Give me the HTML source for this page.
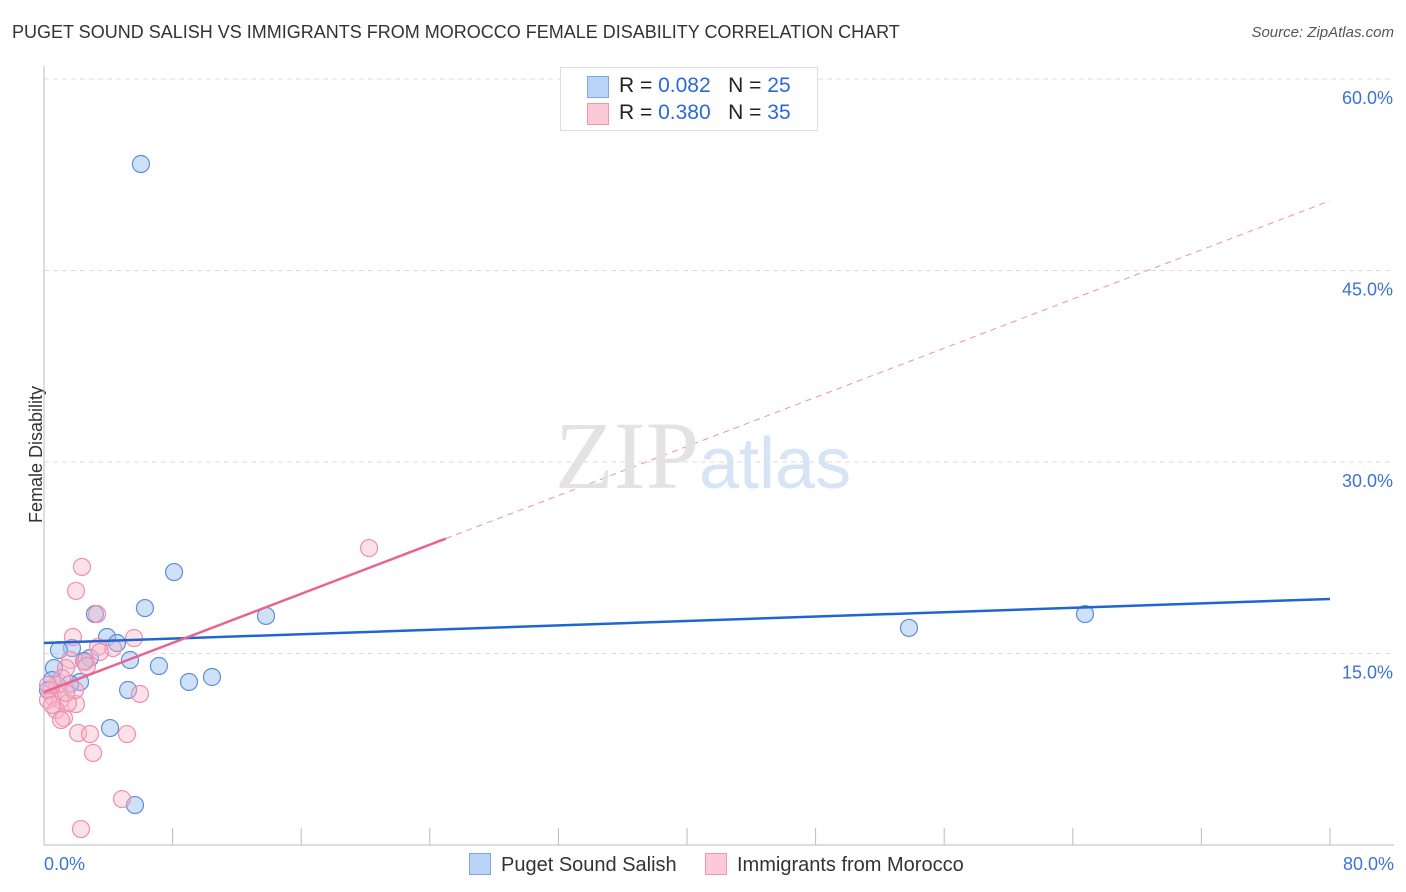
<!DOCTYPE html>
<html><head><meta charset="utf-8"><style>
body{margin:0;background:#fff;font-family:"Liberation Sans",sans-serif;}
#wrap{position:relative;width:1406px;height:892px;overflow:hidden;}
.t{position:absolute;white-space:nowrap;}
</style></head><body>
<div id="wrap">
<div class="t" style="left:12px;top:22px;font-size:18px;color:#333;">PUGET SOUND SALISH VS IMMIGRANTS FROM MOROCCO FEMALE DISABILITY CORRELATION CHART</div>
<div class="t" style="right:12px;top:24px;font-size:15px;color:#555;font-style:italic;">Source: ZipAtlas.com</div>
<div class="t" style="left:-32px;top:444px;font-size:18px;color:#333;transform:rotate(-90deg);">Female Disability</div>
<svg id="plot" width="1406" height="892" style="position:absolute;left:0;top:0"></svg>
<div class="t" style="left:560px;top:67px;width:256px;height:62px;border:1px solid #ddd;background:#fff;">
 <div style="position:absolute;left:26px;top:8px;width:20px;height:20px;background:#b8d3f5;border:1px solid #7aa7e6;"></div>
 <div class="t" style="left:58px;top:6px;font-size:21px;color:#222;">R = <span style="color:#2a6ad6">0.082</span>&nbsp;&nbsp;&nbsp;N = <span style="color:#2a6ad6">25</span></div>
 <div style="position:absolute;left:26px;top:35px;width:20px;height:20px;background:#fbc9d8;border:1px solid #f094b0;"></div>
 <div class="t" style="left:58px;top:33px;font-size:21px;color:#222;">R = <span style="color:#2a6ad6">0.380</span>&nbsp;&nbsp;&nbsp;N = <span style="color:#2a6ad6">35</span></div>
</div>
<div class="t" style="left:555px;top:400px;font-size:96px;font-family:'Liberation Serif',serif;color:#e3e3e3;">ZIP<span style="font-family:'Liberation Sans',sans-serif;color:#d6e4f5;font-size:72px;">atlas</span></div>
<div class="t" style="left:469px;top:853px;font-size:20px;color:#333;"><span style="display:inline-block;width:20px;height:20px;background:#b8d3f5;border:1px solid #7aa7e6;vertical-align:-4px;margin-right:10px;"></span>Puget Sound Salish</div>
<div class="t" style="left:705px;top:853px;font-size:20px;color:#333;"><span style="display:inline-block;width:20px;height:20px;background:#fbc9d8;border:1px solid #f094b0;vertical-align:-4px;margin-right:10px;"></span>Immigrants from Morocco</div>
</div>
<script>
const blueX=[6.03,8.09,6.28,13.81,3.17,3.92,4.54,1.74,0.93,2.86,5.35,2.49,7.15,0.62,2.24,1.62,9.02,10.45,5.23,4.11,5.66,53.81,64.76,0.50,0.25];
const blueY=[53.34,21.38,18.56,17.94,18.09,16.29,15.82,15.43,15.27,14.65,14.49,14.41,14.02,13.86,12.77,12.61,12.77,13.16,12.14,9.16,3.13,17.0,18.09,12.92,12.14];
const pinkX=[2.36,1.99,3.30,20.22,1.80,5.60,4.29,3.36,2.55,1.62,2.67,1.37,1.12,0.81,0.44,0.56,1.0,0.25,1.99,1.49,0.75,1.24,1.06,2.12,2.86,5.16,3.05,5.97,4.85,2.30,0.25,0.5,3.48,1.93,1.37];
const pinkY=[21.78,19.9,18.09,23.26,16.29,16.21,15.43,15.51,14.33,14.49,14.02,13.86,13.08,12.53,12.14,11.59,11.36,11.36,11.04,11.12,10.57,9.95,9.79,8.77,8.69,8.69,7.21,11.83,3.6,1.25,12.53,10.97,15.12,12.14,11.91];
const blueTrend=[15.82,19.27];
const pinkTrend=[11.98,0.481];
const yTicks=[15,30,45,60];
const yTickLabels=["15.0%","30.0%","45.0%","60.0%"];
const xTicks=[0,8,16,24,32,40,48,56,64,72,80];
const xTickLabels=["0.0%","80.0%"];

const NS="http://www.w3.org/2000/svg";
const svg=document.getElementById('plot');
const X0=44,X1=1330,Y0=845,YPX=12.767;
const sx=v=>X0+(v/80)*(X1-X0);
const sy=v=>Y0-v*YPX;
function mk(tag,attrs){const e=document.createElementNS(NS,tag);for(const k in attrs)e.setAttribute(k,attrs[k]);svg.appendChild(e);return e;}
yTicks.forEach((t,i)=>{
 const g=mk('line',{x1:X0,x2:1394,y1:sy(t),y2:sy(t),stroke:'#ddd','stroke-dasharray':'5,4'});
 
 
 const l=mk('text',{x:1393,y:sy(t)+25,'text-anchor':'end','font-size':18,fill:'#3b73d6','font-family':'Liberation Sans, sans-serif'});
 l.textContent=yTickLabels[i];
 
 
});
const ax=mk('line',{x1:X0,x2:X0,y1:66,y2:Y0,stroke:'#bbb'});


const bx=mk('line',{x1:X0,x2:1394,y1:Y0,y2:Y0,stroke:'#bbb'});


xTicks.forEach(t=>{
 const k=mk('line',{x1:sx(t),x2:sx(t),y1:828,y2:Y0,stroke:'#bbb'});
 
 
});
[[0,'start',44],[80,'end',1394]].forEach((d,i)=>{
 const l=mk('text',{x:d[2],y:870,'text-anchor':d[1],'font-size':18,fill:'#3b73d6','font-family':'Liberation Sans, sans-serif'});
 l.textContent=xTickLabels[i];
 
 
});
blueX.forEach((x,i)=>{
 const c=mk('circle',{cx:sx(x),cy:sy(blueY[i]),r:8.5,fill:'rgba(160,195,240,0.5)',stroke:'#5b8fdc','stroke-width':1.2});
 
 
});
pinkX.forEach((x,i)=>{
 const c=mk('circle',{cx:sx(x),cy:sy(pinkY[i]),r:8.5,fill:'rgba(248,180,200,0.4)',stroke:'#ee8fae','stroke-width':1.2});
 
 
});
const bl=mk('line',{x1:sx(0),y1:sy(blueTrend[0]),x2:sx(80),y2:sy(blueTrend[1]),stroke:'#1f66d1','stroke-width':2.5});


const pd=mk('line',{x1:sx(25),y1:sy(pinkTrend[0]+pinkTrend[1]*25),x2:sx(80),y2:sy(pinkTrend[0]+pinkTrend[1]*80),stroke:'#ee8fae','stroke-width':1,'stroke-dasharray':'6,5'});


const pl=mk('line',{x1:sx(0),y1:sy(pinkTrend[0]),x2:sx(25),y2:sy(pinkTrend[0]+pinkTrend[1]*25),stroke:'#e8648f','stroke-width':2.5});


</script>
</body></html>
